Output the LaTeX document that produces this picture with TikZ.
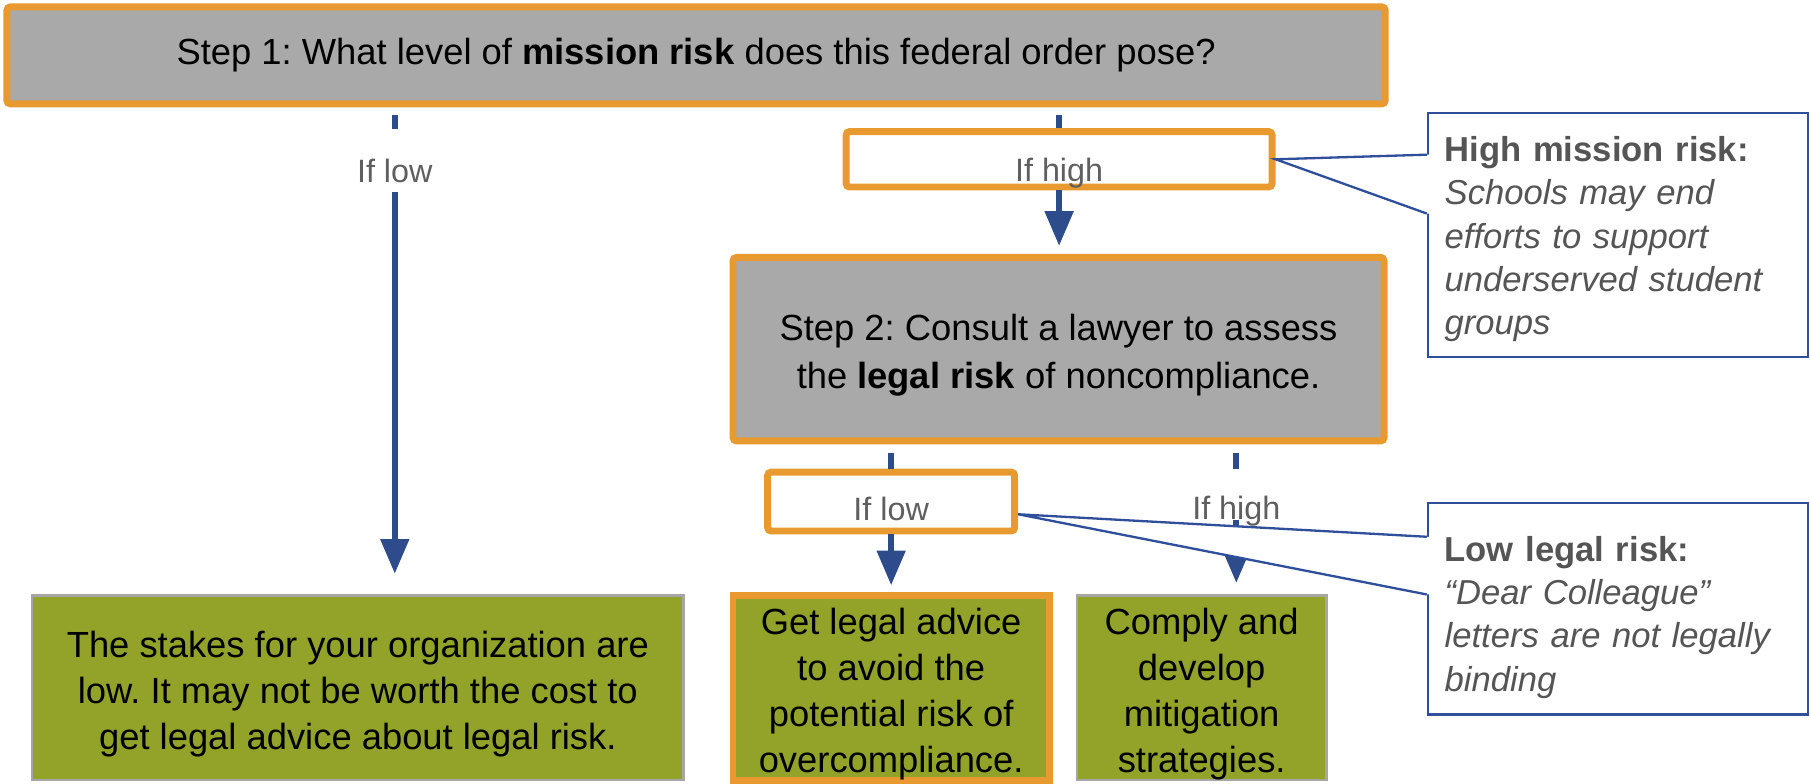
\documentclass[tikz,border=0pt]{standalone}
\usepackage{fontspec}
\setmainfont{Liberation Sans}
\usetikzlibrary{arrows.meta}
\definecolor{orng}{HTML}{E89A30}
\definecolor{boxgray}{HTML}{A9A9A9}
\definecolor{olivefill}{HTML}{93A229}
\definecolor{arrblue}{HTML}{2E4B8C}
\definecolor{lblgray}{HTML}{5F5F5F}
\definecolor{txtgray}{HTML}{555555}
\definecolor{edgegray}{HTML}{A6A6A6}
\definecolor{calloutblue}{HTML}{2F4F9A}
\newcommand{\myrise}[1]{\rule{0pt}{#1}}
\frenchspacing
\begin{document}
\begin{tikzpicture}[x=0.5pt,y=-0.5pt,
  mainfont/.style={font=\fontsize{15.75pt}{20.5pt}\selectfont},
  stepbox/.style={draw=orng, line width=3pt, fill=boxgray, rounded corners=1.5pt, inner sep=0pt, align=center, mainfont},
  ifbox/.style={draw=orng, line width=3pt, fill=white, rounded corners=1.5pt, inner sep=0pt, text=lblgray,
    font=\fontsize{14pt}{17pt}\selectfont, text height=16pt, text depth=0pt},
  endbox/.style={fill=olivefill, inner sep=0pt, align=center, font=\fontsize{15.75pt}{20pt}\selectfont},
  lbl/.style={inner sep=0pt, text=lblgray, font=\fontsize{14pt}{17pt}\selectfont, text height=10pt, text depth=0pt},
  seg/.style={draw=arrblue, line width=2.5pt},
  arr/.style={draw=arrblue, line width=2.5pt, -{Triangle[length=15pt,width=12pt]}},
  note/.style={rectangle, draw=calloutblue, line width=1pt, fill=white, text=txtgray, align=left,
    text width=150pt, inner xsep=7pt, inner ysep=0pt, minimum width=164.5pt,
    font=\fontsize{15pt}{18.75pt}\selectfont},
  wedgeline/.style={draw=calloutblue, line width=1pt, line join=miter}
]
\fill[white] (0,0) rectangle (1568,679);
\useasboundingbox (0,0) rectangle (1568,679);

% boxes
\node[stepbox, minimum width=597pt, minimum height=42pt] (top) at (603,48)
  {Step 1: What level of \textbf{mission risk} does this federal order pose?};
\node[ifbox, minimum width=184.5pt, minimum height=24pt, text height=19pt] (ifhigh) at (917.5,138) {If high};
\node[stepbox, minimum width=282pt, minimum height=79.5pt] (step2) at (917,302.5)
  {\myrise{16.5pt}Step 2: Consult a lawyer to assess\\the \textbf{legal risk} of noncompliance.};
\node[ifbox, minimum width=107pt, minimum height=25.5pt] (iflow) at (772,434.5) {If low};
\node[endbox, draw=edgegray, line width=1pt, minimum width=282pt, minimum height=80pt] (boxA) at (310,596)
  {\myrise{16.5pt}The stakes for your organization are\\low. It may not be worth the cost to\\get legal advice about legal risk.};
\node[endbox, draw=orng, line width=3pt, minimum width=137pt, minimum height=80pt] (boxB) at (772,596)
  {\myrise{16.5pt}Get legal advice\\to avoid the\\potential risk of\\overcompliance.};
\node[endbox, draw=edgegray, line width=1pt, minimum width=108pt, minimum height=80pt] (boxC) at (1041,596)
  {\myrise{16.5pt}Comply and\\develop\\mitigation\\strategies.};

% free labels
\node[lbl] (lowlbl) at (342,148) {If low};
\node[lbl] (highlbl) at (1071,440) {If high};

% connectors
\draw[seg, shorten <=3.5pt, shorten >=13pt] (top.south -| lowlbl) -- (lowlbl.north);
\draw[arr, shorten <=4pt, shorten >=9pt] (lowlbl.south) -- (lowlbl.south |- boxA.north);
\draw[seg, shorten <=3.5pt] (ifhigh.north |- top.south) -- (ifhigh.north);
\draw[arr, shorten >=3.5pt] (ifhigh.south) -- (ifhigh.south |- step2.north);
\draw[seg, shorten <=3.5pt] (iflow.north |- step2.south) -- (iflow.north);
\draw[arr, shorten >=3pt] (iflow.south) -- (iflow.south |- boxB.north);
\draw[seg, shorten <=3.5pt, shorten >=11.5pt] (highlbl.north |- step2.south) -- (highlbl.north);
\draw[arr, shorten >=5pt] (highlbl.south) -- (highlbl.south |- boxC.north);

% callouts
\node[note, minimum height=105.5pt] (note1) at (1401.5,203.5)
  {\myrise{14.5pt}\textbf{High mission risk:}\\\textit{Schools may end}\\\textit{efforts to support}\\\textit{underserved student}\\\textit{groups}};
\node[note, minimum height=91.5pt] (note2) at (1401.5,527.5)
  {\myrise{18pt}\textbf{Low legal risk:}\\\textit{“Dear Colleague”}\\\textit{letters are not legally}\\\textit{binding}};

% callout pointers
\coordinate (tip1) at (ifhigh.east);
\coordinate (tip2) at ([yshift=-5.5pt]iflow.east);
\fill[white] (tip1) -- ([yshift=-18.5pt]note1.north west) -- ([xshift=1.5pt,yshift=-18.5pt]note1.north west)
  -- ([xshift=1.5pt,yshift=-44pt]note1.north west) -- ([yshift=-44pt]note1.north west) -- cycle;
\draw[wedgeline] ([yshift=-18.5pt]note1.north west) -- (tip1) -- ([yshift=-44pt]note1.north west);
\fill[white] (tip2) -- ([yshift=-15pt]note2.north west) -- ([xshift=1.5pt,yshift=-15pt]note2.north west)
  -- ([xshift=1.5pt,yshift=-40pt]note2.north west) -- ([yshift=-40pt]note2.north west) -- cycle;
\draw[wedgeline] ([yshift=-15pt]note2.north west) -- (tip2) -- ([yshift=-40pt]note2.north west);
\end{tikzpicture}
\end{document}
